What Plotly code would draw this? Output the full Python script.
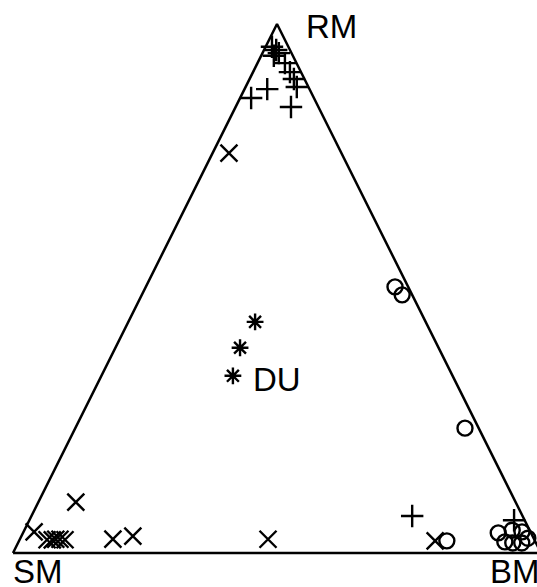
import numpy as np
import plotly.graph_objects as go

# compositions (SM, RM, BM) for each group
plus_sm = [0.031, 0.026, 0.024, 0.036, 0.022, 0.021, 0.020, 0.022, 0.080, 0.119, 0.052, 0.209, 0.020]
plus_rm = [0.957, 0.951, 0.945, 0.940, 0.926, 0.909, 0.896, 0.881, 0.877, 0.860, 0.843, 0.070, 0.062]
plus_bm = [0.012, 0.023, 0.031, 0.024, 0.052, 0.070, 0.084, 0.097, 0.043, 0.021, 0.105, 0.721, 0.918]

cross_sm = [0.213, 0.833, 0.940, 0.923, 0.914, 0.906, 0.898, 0.889, 0.797, 0.757, 0.504, 0.189]
cross_rm = [0.756, 0.096, 0.040, 0.025, 0.025, 0.026, 0.026, 0.025, 0.026, 0.032, 0.026, 0.023]
cross_bm = [0.031, 0.071, 0.020, 0.052, 0.062, 0.068, 0.076, 0.086, 0.176, 0.211, 0.470, 0.788]

circ_sm = [0.025, 0.019, 0.026, 0.167, 0.062, 0.033, 0.016, 0.011, 0.058, 0.044, 0.027]
circ_rm = [0.503, 0.488, 0.236, 0.023, 0.038, 0.043, 0.040, 0.028, 0.021, 0.019, 0.019]
circ_bm = [0.472, 0.493, 0.738, 0.811, 0.900, 0.923, 0.944, 0.961, 0.921, 0.938, 0.955]

star_sm = [0.323, 0.376, 0.416]
star_rm = [0.437, 0.388, 0.335]
star_bm = [0.240, 0.236, 0.249]

corner_labels = ['SM', 'RM', 'BM']


def to_xy(sm, rm, bm):
    sm, rm, bm = np.array(sm), np.array(rm), np.array(bm)
    tot = sm + rm + bm
    rm, bm = rm / tot, bm / tot
    return bm + rm / 2, rm


fig = go.Figure()

# triangle frame
tx, ty = to_xy([1, 0, 0, 1], [0, 0, 1, 0], [0, 1, 0, 0])
fig.add_trace(go.Scatter(x=tx, y=ty, mode='lines',
                         line=dict(color='black', width=2.5), hoverinfo='skip'))

groups = [
    (plus_sm, plus_rm, plus_bm, 'cross-thin-open', 16),
    (cross_sm, cross_rm, cross_bm, 'x-thin-open', 17),
    (circ_sm, circ_rm, circ_bm, 'circle-open', 15),
    (star_sm, star_rm, star_bm, 'asterisk-open', 14),
]
for sm, rm, bm, sym, sz in groups:
    x, y = to_xy(sm, rm, bm)
    fig.add_trace(go.Scatter(x=x, y=y, mode='markers', cliponaxis=False,
                             marker=dict(symbol=sym, size=sz, color='black',
                                         line=dict(color='black', width=2.4))))

font = dict(family='Liberation Sans, Arial', size=33, color='black')
cx, cy = to_xy([1, 0, 0], [0, 1, 0], [0, 0, 1])
fig.add_annotation(x=cx[0], y=cy[0], text=corner_labels[0], showarrow=False,
                   xanchor='left', yanchor='top', xshift=-2, yshift=2, font=font)
fig.add_annotation(x=cx[1], y=cy[1], text=corner_labels[1], showarrow=False,
                   xanchor='left', yanchor='middle', xshift=27, yshift=-2, font=font)
# BM corner sits just past the right edge of the window, so pin it to the paper edge
fig.add_annotation(x=1, xref='paper', y=cy[2], text=corner_labels[2], showarrow=False,
                   xanchor='left', yanchor='top', xshift=-49, yshift=2, font=font)
sx, sy = to_xy(star_sm, star_rm, star_bm)
fig.add_annotation(x=sx[2], y=sy[2], text='DU', showarrow=False,
                   xanchor='left', yanchor='middle', xshift=18, yshift=-4, font=font)

fig.update_layout(
    width=537, height=587,
    margin=dict(l=0, r=0, t=0, b=0),
    paper_bgcolor='white', plot_bgcolor='white',
    showlegend=False,
    xaxis=dict(range=[-0.0246, 0.9924], visible=False),
    yaxis=dict(range=[-0.0643, 1.0454], visible=False),
)

# page has a default 8px body margin; drop it so the figure fills the window
fig.write_html("out.html", config={'displayModeBar': False},
               post_script="document.body.style.margin='0px';")
